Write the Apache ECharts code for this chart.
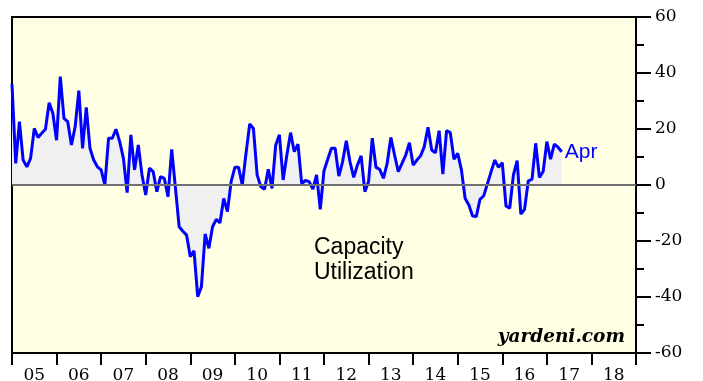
<!DOCTYPE html>
<html>
<head>
<meta charset="utf-8">
<script src="https://cdn.jsdelivr.net/npm/echarts@6/dist/echarts.min.js"></script>
<style>
  html, body { margin: 0; padding: 0; background: #ffffff; }
  #chart { width: 703px; height: 381px; }
</style>
</head>
<body>
<div id="chart"></div>
<script>
// Year labels along the bottom axis (one band per year)
const yearLabels = ['05','06','07','08','09','10','11','12','13','14','15','16','17','18'];

// Monthly readings, starting January 2005
const capacityUtilization = [
  36.0, 7.7, 22.6, 8.9, 6.5, 9.5, 20.2, 17.0, 18.5, 19.9, 29.4, 25.6,
  16.0, 38.7, 23.8, 22.6, 14.3, 20.8, 33.7, 13.1, 27.7, 13.1, 8.9, 6.5,
  5.4, 0.0, 16.7, 16.7, 19.9, 15.5, 9.5, -2.7, 17.9, 5.4, 14.3, 3.6,
  -3.6, 6.0, 4.8, -2.4, 3.0, 2.4, -4.2, 12.7, -1.0, -14.9, -16.5, -17.9,
  -25.6, -23.5, -39.9, -36.3, -17.5, -22.6, -14.9, -12.3, -13.5, -4.8, -9.5, 1.2,
  6.3, 6.3, 0.0, 11.3, 21.8, 20.2, 3.6, -0.6, -1.5, 5.6, -1.2, 14.3,
  17.9, 1.8, 10.7, 18.7, 11.9, 14.6, 0.5, 1.6, 1.2, -1.5, 3.6, -8.7,
  5.1, 9.2, 13.1, 13.1, 3.2, 8.3, 15.8, 8.3, 2.7, 7.1, 10.4, -2.4,
  1.2, 16.7, 6.3, 5.6, 2.4, 7.7, 17.0, 10.7, 4.8, 7.7, 10.7, 15.1,
  7.1, 8.9, 10.4, 13.7, 20.6, 12.5, 11.5, 19.4, 3.9, 19.4, 18.7, 9.2,
  11.3, 5.4, -4.8, -7.1, -11.1, -11.3, -5.1, -3.9, 0.4, 4.8, 8.9, 6.3,
  8.0, -7.5, -8.3, 3.6, 8.7, -10.4, -8.7, 1.5, 2.0, 14.9, 2.7, 4.8,
  15.5, 9.2, 14.6, 13.5, 11.9
];
const lastLabel = 'Apr';
const monthsOnAxis = yearLabels.length * 12;

const seriesData = capacityUtilization.map((v, i) => [i, v]);

const serifFont = '"DejaVu Serif", serif';
const sansFont = '"Liberation Sans", Arial, sans-serif';

const chart = echarts.init(document.getElementById('chart'), null, { renderer: 'canvas' });

chart.setOption({
  animation: false,
  backgroundColor: '#ffffff',
  textStyle: { fontFamily: serifFont },
  grid: {
    left: 12, right: 67, top: 17, bottom: 28,
    outerBoundsMode: 'none',
    containLabel: false,
    show: true,
    backgroundColor: '#ffffe3',
    borderColor: '#000000',
    borderWidth: 2
  },
  xAxis: [
    {
      type: 'category',
      data: yearLabels,
      position: 'bottom',
      boundaryGap: true,
      axisLine: { show: true, onZero: false, lineStyle: { color: '#000', width: 2 } },
      axisTick: { show: true, alignWithLabel: false, interval: 0, length: 12, lineStyle: { color: '#000', width: 2 } },
      axisLabel: {
        interval: 0, margin: 14, color: '#000',
        fontFamily: serifFont, fontSize: 17
      },
      splitLine: { show: false }
    },
    {
      type: 'value',
      min: 0, max: monthsOnAxis,
      show: false,
      axisLine: { onZero: false }
    }
  ],
  yAxis: {
    type: 'value',
    position: 'right',
    min: -60, max: 60, interval: 20,
    axisLine: { show: true, onZero: false, lineStyle: { color: '#000', width: 2 } },
    axisTick: { show: true, inside: false, length: 15, lineStyle: { color: '#000', width: 2 } },
    minorTick: { show: true, splitNumber: 2, length: 8, lineStyle: { color: '#000', width: 2 } },
    axisLabel: {
      margin: 19, color: '#000',
      fontFamily: serifFont, fontSize: 17
    },
    splitLine: { show: false },
    minorSplitLine: { show: false }
  },
  series: [
    {
      // zero reference line
      type: 'line',
      xAxisIndex: 1,
      data: [],
      z: 1,
      silent: true,
      markLine: {
        silent: true,
        symbol: 'none',
        label: { show: false },
        lineStyle: { color: '#707070', width: 2, type: 'solid' },
        data: [{ yAxis: 0 }]
      }
    },
    {
      name: 'Capacity Utilization',
      type: 'line',
      xAxisIndex: 1,
      data: seriesData,
      z: 3,
      showSymbol: false,
      symbol: 'none',
      lineStyle: { color: '#0000ff', width: 3 },
      areaStyle: { color: '#f0f0f0', opacity: 1, origin: 0 },
      endLabel: {
        show: true,
        formatter: lastLabel,
        color: '#0000ff',
        fontFamily: sansFont,
        fontSize: 21,
        distance: 3,
        offset: [0, 1]
      }
    }
  ],
  graphic: [
    {
      type: 'text',
      left: 314, top: 235,
      z: 10,
      style: {
        text: 'Capacity\nUtilization',
        fill: '#000',
        font: '23px "Liberation Sans", Arial, sans-serif',
        lineHeight: 25
      }
    },
    {
      type: 'text',
      right: 78, top: 328,
      z: 10,
      style: {
        text: 'yardeni.com',
        fill: '#000',
        font: 'italic bold 18.5px "DejaVu Serif", serif'
      }
    }
  ]
});
</script>
</body>
</html>
